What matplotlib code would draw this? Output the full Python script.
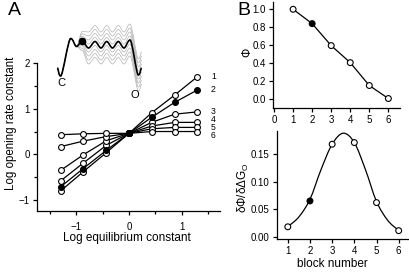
"""Phi-value figure: rate-equilibrium lines (A) and per-block phi / dphi (B)."""

import matplotlib

matplotlib.use("Agg")
import matplotlib.pyplot as plt
import numpy as np
from matplotlib.patches import PathPatch
from matplotlib.path import Path

plt.rcParams["font.family"] = ["Liberation Sans", "DejaVu Sans"]
plt.rcParams["mathtext.fontset"] = "custom"
plt.rcParams["mathtext.rm"] = "Liberation Sans"

# --- panel A: log opening rate vs log equilibrium constant, one line per block
log_keq = [-1.3, -0.87, -0.43, 0.0, 0.43, 0.87, 1.3]
block_lines = [
    [-0.80, -0.38, 0.04, 0.46, 0.91, 1.30, 1.70],
    [-0.71, -0.31, 0.09, 0.46, 0.81, 1.14, 1.41],
    [-0.58, -0.19, 0.20, 0.46, 0.70, 0.88, 0.93],
    [-0.35, -0.01, 0.30, 0.46, 0.62, 0.70, 0.70],
    [0.17, 0.29, 0.39, 0.46, 0.56, 0.59, 0.59],
    [0.43, 0.45, 0.46, 0.46, 0.50, 0.50, 0.50],
]
line_labels = ["1", "2", "3", "4", "5", "6"]
label_y = [1.70, 1.41, 0.93, 0.76, 0.59, 0.42]
filled_line = 1

# inset energy landscape (picture units), C well -> six barriers -> O well
land_x = [57.3, 60.7, 70.7, 76.5, 82.3, 88.5, 95.0, 101.0, 106.7, 112.5, 118.3, 124.0, 130.0, 138.3, 141.7]
land_y = [68.0, 76.0, 38.5, 46.5, 41.0, 48.0, 41.5, 48.0, 41.5, 48.0, 41.5, 48.0, 40.0, 75.0, 68.0]
gray_weight = [0, 0, 0, 0, 0.6, 1, 1, 1, 1, 1, 1, 1, 1, 1, 1]
gray_offsets = [-16, -12, -8, -4, 4, 8, 12, 16]
filled_node = 4

# --- panel B
blocks = [1, 2, 3, 4, 5, 6]
phi = [1.0, 0.84, 0.595, 0.405, 0.15, 0.005]
dphi = [0.018, 0.065, 0.168, 0.171, 0.062, 0.011]
fit_x = [1, 1.5, 2, 2.5, 3, 3.5, 4, 4.5, 5, 5.5, 6]
fit_y = [0.018, 0.036, 0.068, 0.122, 0.168, 0.188, 0.171, 0.122, 0.064, 0.030, 0.011]
filled_block = 2

W, H = 410, 273
LW = 0.9
MS = 4.2


def fig_rect(x0, y0, x1, y1):
    """pixel box (top-left origin) -> figure rect."""
    return [x0 / W, 1 - y1 / H, (x1 - x0) / W, (y1 - y0) / H]


def smooth_path(xs, ys, flat=False):
    """Cubic Bezier path through nodes; flat=True gives horizontal tangents."""
    p = np.column_stack([xs, ys]).astype(float)
    n = len(p)
    if flat:
        tang = np.zeros_like(p)
        for i in range(n):
            a, b = max(i - 1, 0), min(i + 1, n - 1)
            tang[i] = [(p[b, 0] - p[a, 0]) / (b - a), 0]
    else:
        tang = np.gradient(p, axis=0)
    verts, codes = [p[0]], [Path.MOVETO]
    for i in range(n - 1):
        verts += [p[i] + tang[i] / 3, p[i + 1] - tang[i + 1] / 3, p[i + 1]]
        codes += [Path.CURVE4] * 3
    return Path(verts, codes)


def style_axes(ax):
    for s in ("top", "right"):
        ax.spines[s].set_visible(False)
    for s in ("left", "bottom"):
        ax.spines[s].set_linewidth(LW)
    ax.tick_params(direction="out", length=3, width=LW, labelsize=7, pad=2)
    ax.tick_params(which="minor", direction="out", length=2, width=LW)


def panel_a(fig):
    ax = fig.add_axes(fig_rect(37, 63, 220, 211))
    for i, ys in enumerate(block_lines):
        face = "black" if i == filled_line else "white"
        ax.plot(log_keq, ys, color="black", lw=LW, marker="o", ms=MS,
                mfc=face, mec="black", mew=0.8, zorder=3 + (i == filled_line))
        ax.text(1.56, label_y[i], line_labels[i], fontsize=6.2, va="center", ha="left", clip_on=False)
    ax.set_xlim(-1.75, 1.73)
    ax.set_ylim(-1.24, 2.0)
    ax.set_xticks([-1, 0, 1])
    ax.set_xticks([-1.5, -0.5, 0.5, 1.5], minor=True)
    ax.set_yticks([-1, 0, 1, 2])
    ax.set_yticks([-0.5, 0.5, 1.5], minor=True)
    style_axes(ax)
    ax.tick_params(axis="x", pad=5)
    ax.set_xlabel("Log equilibrium constant", fontsize=8.5)
    ax.xaxis.set_label_coords(0.49, -0.145)
    ax.set_ylabel("Log opening rate constant", fontsize=8.3)
    ax.yaxis.set_label_coords(-0.112, 0.59)

    ins = fig.add_axes(fig_rect(50, 20, 145, 100))
    ins.set_xlim(50, 145)
    ins.set_ylim(100, 20)
    ins.axis("off")
    for off in gray_offsets:
        gy = [y + off * w for y, w in zip(land_y, gray_weight)]
        ins.add_patch(PathPatch(smooth_path(land_x, gy, flat=True), fill=False,
                                ec="#aaaaaa", lw=0.45))
    ins.add_patch(PathPatch(smooth_path(land_x, land_y, flat=True), fill=False,
                            ec="black", lw=1.2, zorder=3))
    ins.plot(land_x[filled_node], land_y[filled_node], "o", color="black", ms=4.5, zorder=4)
    ins.text(61.5, 83, "C", fontsize=8, ha="center", va="center")
    ins.text(134.5, 95, "O", fontsize=8, ha="center", va="center")


def panel_b(fig):
    top = fig.add_axes(fig_rect(272.7, 2.1, 400, 108.3))
    faces = ["black" if b == filled_block else "white" for b in blocks]
    top.plot(blocks, phi, color="black", lw=LW, zorder=2)
    top.scatter(blocks, phi, s=MS ** 2, c=faces, edgecolors="black", linewidths=0.8, zorder=3)
    top.set_xlim(-0.07, 6.61)
    top.set_ylim(-0.104, 1.08)
    top.set_xticks(range(0, 7))
    top.set_yticks([0.0, 0.2, 0.4, 0.6, 0.8, 1.0])
    top.yaxis.set_major_formatter(matplotlib.ticker.FormatStrFormatter("%.1f"))
    style_axes(top)
    top.set_ylabel("Φ", fontsize=8.5, rotation=90)
    top.yaxis.set_label_coords(-0.155, 0.53)

    bot = fig.add_axes(fig_rect(276.7, 131, 410, 239.3))
    bot.add_patch(PathPatch(smooth_path(fit_x, fit_y), fill=False, ec="black", lw=LW, zorder=2))
    bot.scatter(blocks, dphi, s=MS ** 2, c=faces, edgecolors="black", linewidths=0.8, zorder=3)
    bot.set_xlim(0.5, 6.51)
    bot.set_ylim(-0.0047, 0.192)
    bot.set_xticks(blocks)
    bot.set_yticks([0.0, 0.05, 0.10, 0.15])
    bot.yaxis.set_major_formatter(matplotlib.ticker.FormatStrFormatter("%.2f"))
    style_axes(bot)
    bot.set_ylabel(r"δΦ/δΔG$_{\rm O}$", fontsize=8.5)
    bot.yaxis.set_label_coords(-0.19, 0.474)
    bot.set_xlabel("block number", fontsize=8.5)
    bot.xaxis.set_label_coords(0.415, -0.17)


def main():
    fig = plt.figure(figsize=(W / 100, H / 100), dpi=100)
    panel_a(fig)
    panel_b(fig)
    fig.text(8 / W, 1 - 2 / H, "A", fontsize=14, va="top", ha="left")
    fig.text(237 / W, 1 - 2 / H, "B", fontsize=14, va="top", ha="left")
    fig.savefig("out.png", dpi=100)


if __name__ == "__main__":
    main()
